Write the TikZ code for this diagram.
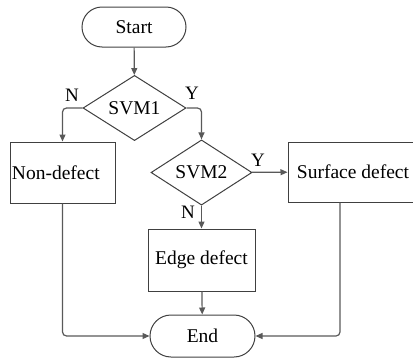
\documentclass[tikz,border=0pt]{standalone}
\usepackage{fontspec}
\setmainfont{Liberation Serif}
\usetikzlibrary{shapes.geometric,shapes.misc,arrows.meta}
\begin{document}
\begin{tikzpicture}[x=1pt,y=-1pt,
  base/.style={draw=black!75,line width=1pt,font=\fontsize{19.5}{21}\selectfont,inner sep=0pt},
  term/.style={base,rounded rectangle},
  procbox/.style={base,rectangle},
  decide/.style={base,diamond},
  lbl/.style={font=\fontsize{19}{21}\selectfont,inner sep=0pt},
  conn/.style={draw=black!65,line width=1.2pt,-{Triangle[length=7pt,width=6pt]},rounded corners=4pt}
]
\useasboundingbox (0,0) rectangle (413,359);
\node[term,minimum width=104pt,minimum height=40pt] (start) at (134,27) {Start};
\node[decide,minimum width=103pt,minimum height=62pt] (svm1) at (134.5,108) {SVM1};
\node[procbox,minimum width=105pt,minimum height=61pt,text width=101pt,align=left,inner xsep=2pt] (non) at (62.5,172.5) {\raisebox{-5pt}{Non-defect}};
\node[decide,minimum width=101pt,minimum height=59pt] (svm2) at (201.5,172.5) {SVM2};
\node[procbox,minimum width=130pt,minimum height=60pt] (surf) at (353,172) {Surface defect};
\node[procbox,minimum width=107pt,minimum height=62pt] (edge) at (201.5,260) {Edge defect};
\node[term,minimum width=105pt,minimum height=42pt] (end) at (202.5,336) {End};
\node[lbl] (n1) at (72,95) {N};
\node[lbl] (y1) at (192,93) {Y};
\node[lbl] (y2) at (258,160) {Y};
\node[lbl] (n2) at (188,212) {N};
\draw[conn] (start) -- (svm1);
\draw[conn] (svm1.west) -| (non.north);
\draw[conn] (svm1.east) -| (svm2.north);
\draw[conn] (svm2) -- (surf);
\draw[conn] (svm2) -- (edge);
\draw[conn] (edge) -- (end);
\draw[conn] (non.south) |- (end.west);
\draw[conn] ([xshift=-13pt]surf.south) |- (end.east);
\end{tikzpicture}
\end{document}
